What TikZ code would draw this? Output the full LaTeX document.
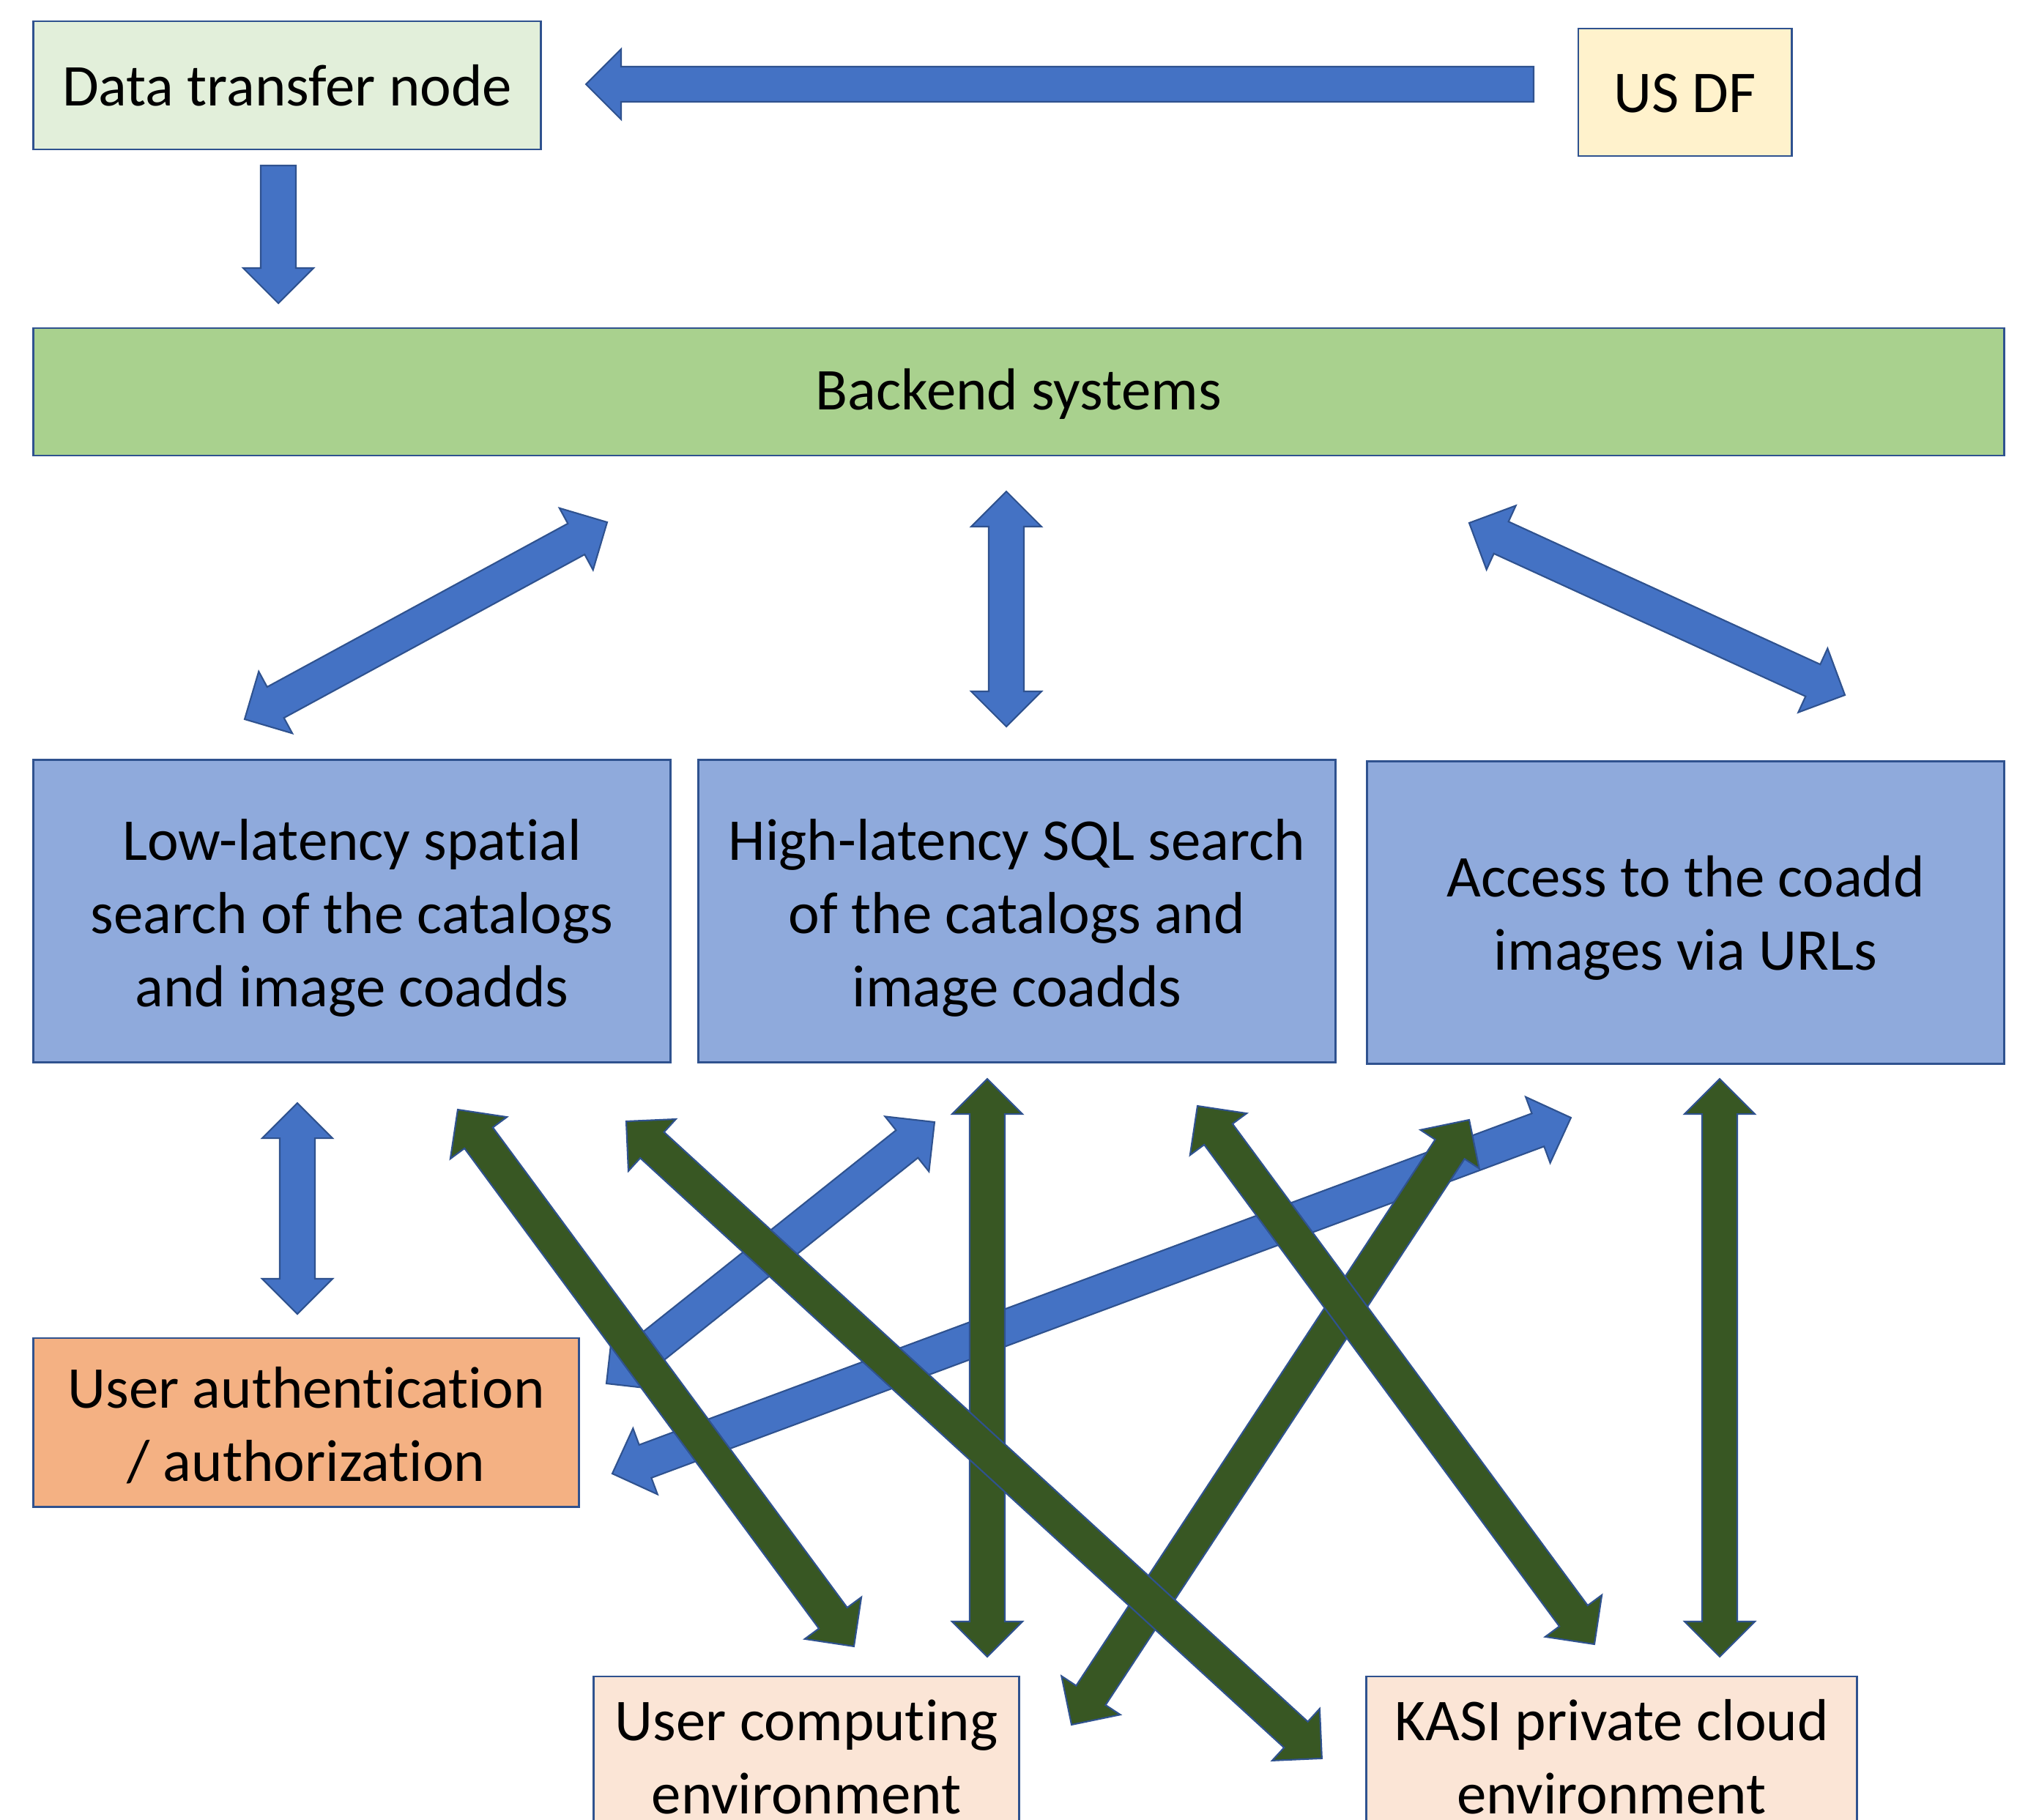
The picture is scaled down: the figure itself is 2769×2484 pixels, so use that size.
\documentclass[tikz,border=0pt]{standalone}
\usepackage{fontspec}
\setmainfont{Carlito}[Ligatures=NoCommon]
\definecolor{boxline}{HTML}{2F528F}
\definecolor{dtnfill}{HTML}{E2EFDA}
\definecolor{usdffill}{HTML}{FFF2CC}
\definecolor{backfill}{HTML}{A9D18E}
\definecolor{svcfill}{HTML}{8FAADC}
\definecolor{authfill}{HTML}{F4B183}
\definecolor{envfill}{HTML}{FBE5D6}
\definecolor{bluearr}{HTML}{4472C4}
\definecolor{greenarr}{HTML}{385723}
\newdimen\bArX \newdimen\bArY \newdimen\bBrX \newdimen\bBrY
\def\hl{13.66}\def\hw{13.66}\def\sw{6.83}
% #1 style, #2 from, #3 to, #4 = 1 double-headed, 0 single (tip at #3)
\newcommand\blockarrow[4]{%
  \pgfextractx{\bArX}{\pgfpointanchor{#2}{center}}%
  \pgfextracty{\bArY}{\pgfpointanchor{#2}{center}}%
  \pgfextractx{\bBrX}{\pgfpointanchor{#3}{center}}%
  \pgfextracty{\bBrY}{\pgfpointanchor{#3}{center}}%
  \pgfmathsetmacro\bDX{\bBrX-\bArX}%
  \pgfmathsetmacro\bDY{\bBrY-\bArY}%
  \pgfmathsetmacro\bAng{atan2(\bDY,\bDX)}%
  \pgfmathsetmacro\bLen{veclen(\bDX,\bDY)}%
  \pgfmathsetmacro\bEnd{\bLen-\hl}%
  \ifnum#4=1
    \draw[#1,shift={(#2)},rotate=\bAng] (0pt,0pt) -- (\hl pt,\hw pt) -- (\hl pt,\sw pt)
      -- (\bEnd pt,\sw pt) -- (\bEnd pt,\hw pt) -- (\bLen pt,0pt) -- (\bEnd pt,-\hw pt)
      -- (\bEnd pt,-\sw pt) -- (\hl pt,-\sw pt) -- (\hl pt,-\hw pt) -- cycle;
  \else
    \draw[#1,shift={(#2)},rotate=\bAng] (0pt,\sw pt) -- (\bEnd pt,\sw pt) -- (\bEnd pt,\hw pt)
      -- (\bLen pt,0pt) -- (\bEnd pt,-\hw pt) -- (\bEnd pt,-\sw pt) -- (0pt,-\sw pt) -- cycle;
  \fi
}
\tikzset{
  box/.style={draw=boxline, line width=0.8pt, inner sep=0pt},
  lbl/.style={align=center, inner sep=0pt, font=\fontsize{23}{28.4}\selectfont, text=black},
  barrow/.style={fill=bluearr, draw=boxline, line width=0.6pt, line join=miter},
  garrow/.style={fill=greenarr, draw=boxline, line width=0.6pt, line join=miter}
}
\begin{document}
\begin{tikzpicture}[x=0.01cm, y=-0.01cm]
\useasboundingbox (0,0) rectangle (2769,2484);
\clip (0,0) rectangle (2769,2484);
\fill[white] (0,0) rectangle (2769,2484);

% boxes
\node[box, fill=dtnfill, minimum width=6.92cm, minimum height=1.75cm] (dtn) at (392,116.5) {};
\node[box, fill=usdffill, minimum width=2.91cm, minimum height=1.74cm] (usdf) at (2300.5,126) {};
\node[box, fill=backfill, minimum width=26.90cm, minimum height=1.74cm] (back) at (1391,535) {};
\node[box, fill=svcfill, minimum width=8.69cm, minimum height=4.12cm] (low) at (480.5,1244) {};
\node[box, fill=svcfill, minimum width=8.69cm, minimum height=4.12cm] (high) at (1388.5,1244) {};
\node[box, fill=svcfill, minimum width=8.69cm, minimum height=4.12cm] (acc) at (2301.5,1246) {};
\node[box, fill=authfill, minimum width=7.44cm, minimum height=2.30cm] (auth) at (418,1942) {};
\node[box, fill=envfill, minimum width=5.80cm, minimum height=2.16cm] (ucomp) at (1101,2397) {};
\node[box, fill=envfill, minimum width=6.69cm, minimum height=2.16cm] (kasi) at (2200.5,2397) {};

% texts
\node[lbl] (dtnt) at (dtn.center) {Data transfer node};
\node[lbl] (usdft) at ([yshift=-0.02cm]usdf.center) {US DF};
\node[lbl] (backt) at ([yshift=-0.03cm]back.center) {Backend systems};
\node[lbl] (lowt) at ([yshift=-0.09cm]low.center) {Low-latency spatial\\search of the catalogs\\and image coadds};
\node[lbl] (hight) at ([yshift=-0.09cm]high.center) {High-latency SQL search\\of the catalogs and\\image coadds};
\node[lbl] (acct) at ([yshift=-0.07cm]acc.center) {Access to the coadd\\images via URLs};
\node[lbl] (autht) at ([yshift=-0.04cm]auth.center) {User authentication\\/ authorization};
\node[lbl] (ucompt) at ([yshift=-0.02cm]ucomp.center) {User computing\\environment};
\node[lbl] (kasit) at ([yshift=-0.02cm]kasi.center) {KASI private cloud\\environment};

% arrow end points
\coordinate (a1s) at (2094,115);  \coordinate (a1e) at (800,115);
\coordinate (a2s) at (380,226);   \coordinate (a2e) at (380,414);
\coordinate (a3s) at (334,982);   \coordinate (a3e) at (829,713);
\coordinate (a4s) at (1374,671);  \coordinate (a4e) at (1374,992);
\coordinate (a5s) at (2006,714);  \coordinate (a5e) at (2519,949);
\coordinate (a6s) at (406,1506);  \coordinate (a6e) at (406,1794);
\coordinate (a7s) at (828,1889);  \coordinate (a7e) at (1276,1532);
\coordinate (a8s) at (836,2012);  \coordinate (a8e) at (2145,1526);
\coordinate (g1s) at (625,1515);  \coordinate (g1e) at (1166,2248);
\coordinate (g2s) at (855,1531);  \coordinate (g2e) at (1805,2401);
\coordinate (g3s) at (2006,1529); \coordinate (g3e) at (1463,2355);
\coordinate (g4s) at (1635,1510); \coordinate (g4e) at (2177,2245);
\coordinate (v1s) at (1348,1473); \coordinate (v1e) at (1348,2262);
\coordinate (v2s) at (2348,1473); \coordinate (v2e) at (2348,2262);

% blue arrows
\blockarrow{barrow}{a1s}{a1e}{0}
\blockarrow{barrow}{a2s}{a2e}{0}
\blockarrow{barrow}{a3s}{a3e}{1}
\blockarrow{barrow}{a4s}{a4e}{1}
\blockarrow{barrow}{a5s}{a5e}{1}
\blockarrow{barrow}{a6s}{a6e}{1}
\blockarrow{barrow}{a7s}{a7e}{1}
\blockarrow{barrow}{a8s}{a8e}{1}

% green arrows
\blockarrow{garrow}{g1s}{g1e}{1}
\blockarrow{garrow}{v1s}{v1e}{1}
\blockarrow{garrow}{v2s}{v2e}{1}
\blockarrow{garrow}{g3s}{g3e}{1}
\blockarrow{garrow}{g4s}{g4e}{1}
\blockarrow{garrow}{g2s}{g2e}{1}
\end{tikzpicture}
\end{document}
